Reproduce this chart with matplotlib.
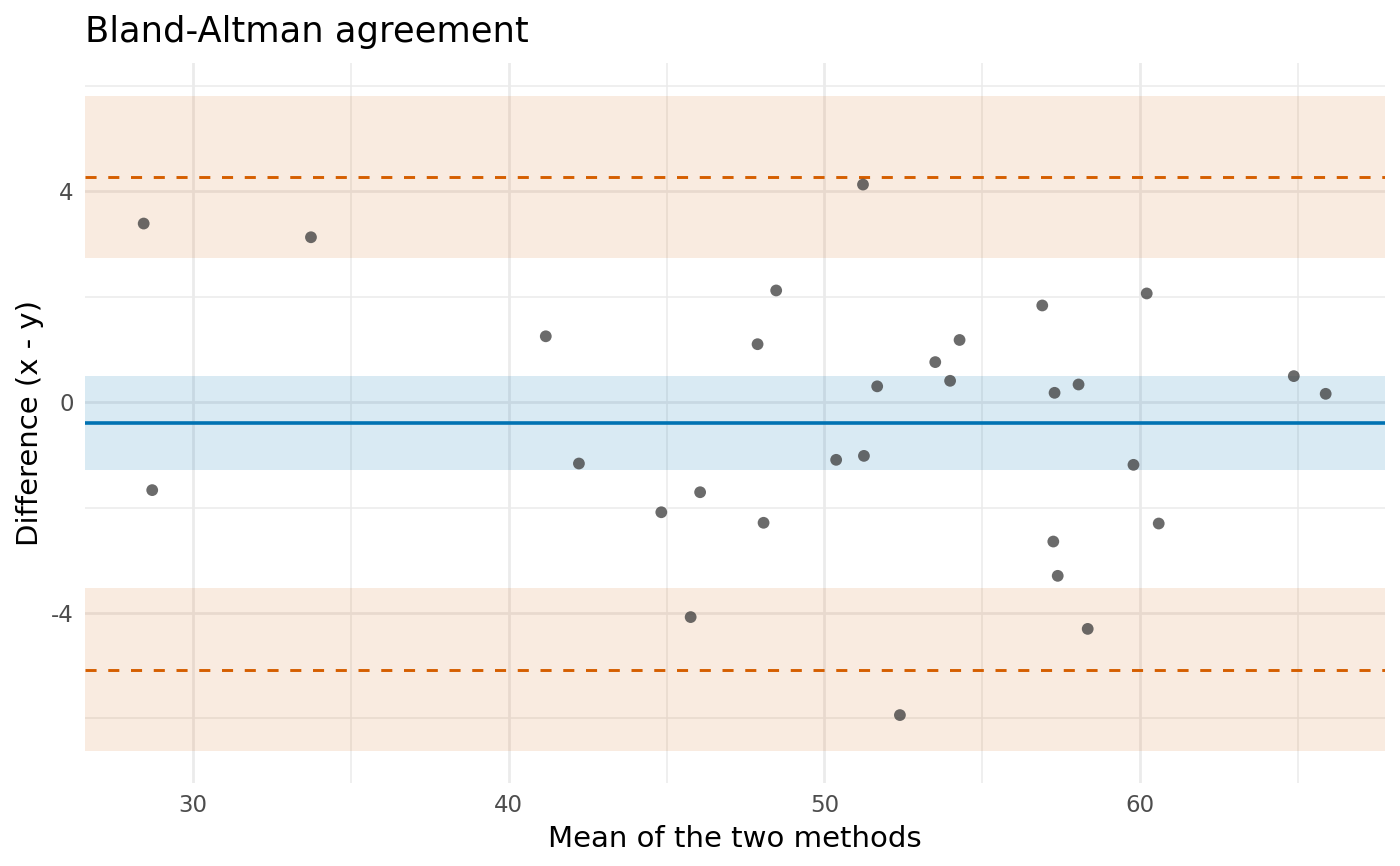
import matplotlib
matplotlib.use("Agg")
import matplotlib.pyplot as plt
from matplotlib.ticker import FixedLocator

# Data
mean_vals = [28.43, 33.73, 28.70, 41.17, 42.22, 44.83, 45.76, 46.06, 47.88, 48.07,
             48.47, 50.37, 51.22, 51.25, 51.67, 52.39, 53.51, 53.98, 54.28, 56.90,
             57.25, 57.29, 57.39, 58.05, 58.34, 59.79, 60.21, 60.59, 64.87, 65.88]
diff_vals = [3.39, 3.13, -1.67, 1.25, -1.165, -2.09, -4.08, -1.71, 1.10, -2.29,
             2.12, -1.095, 4.13, -1.02, 0.30, -5.94, 0.76, 0.405, 1.18, 1.835,
             -2.646, 0.177, -3.297, 0.335, -4.304, -1.19, 2.063, -2.304, 0.494, 0.158]

bias = -0.395
bias_ci = [-1.285, 0.494]
upper_loa = 4.278
upper_ci = [2.74, 5.816]
lower_loa = -5.076
lower_ci = [-6.627, -3.532]

x_ticks = [30, 40, 50, 60]
x_minor = [35, 45, 55, 65]
y_ticks = [-4, 0, 4]
y_minor = [-6, -2, 2, 6]
y_tick_labels = ["-4", "0", "4"]

ORANGE = "#D55E00"
BLUE = "#0072B2"

fig = plt.figure(figsize=(14, 8.66), dpi=100)
ax = fig.add_axes([0.0607, 0.0958, 0.9286, 0.831])

ax.set_xlim(26.57, 67.76)
ax.set_ylim(-7.23, 6.43)

# grid
ax.xaxis.set_major_locator(FixedLocator(x_ticks))
ax.yaxis.set_major_locator(FixedLocator(y_ticks))
ax.xaxis.set_minor_locator(FixedLocator(x_minor))
ax.yaxis.set_minor_locator(FixedLocator(y_minor))
ax.grid(which="major", color="#EBEBEB", linewidth=2.0, zorder=0)
ax.grid(which="minor", color="#EBEBEB", linewidth=1.1, zorder=0)
ax.set_axisbelow(True)

# bands
ax.axhspan(upper_ci[0], upper_ci[1], color=ORANGE, alpha=0.12, lw=0, zorder=1)
ax.axhspan(lower_ci[0], lower_ci[1], color=ORANGE, alpha=0.12, lw=0, zorder=1)
ax.axhspan(bias_ci[0], bias_ci[1], color=BLUE, alpha=0.15, lw=0, zorder=1)

# lines
ax.axhline(bias, color=BLUE, linewidth=2.6, zorder=2)
ax.axhline(upper_loa, color=ORANGE, linewidth=2.1, linestyle=(0, (3.8, 4.0)), zorder=2)
ax.axhline(lower_loa, color=ORANGE, linewidth=2.1, linestyle=(0, (3.8, 4.0)), zorder=2)

# points
ax.scatter(mean_vals, diff_vals, s=72, color="#3A3A3A", alpha=0.75, edgecolors="none", zorder=3)

for sp in ax.spines.values():
    sp.set_visible(False)
ax.tick_params(which="both", length=0)
ax.tick_params(axis="both", labelsize=16.5, labelcolor="#4D4D4D", pad=8)
ax.set_yticklabels(y_tick_labels)

ax.set_xlabel("Mean of the two methods", fontsize=21, color="black", labelpad=6)
ax.set_ylabel("Difference (x - y)", fontsize=21, color="black", labelpad=5)
fig.text(0.0607, 0.951, "Bland-Altman agreement", fontsize=25.4, color="black",
         ha="left", va="baseline")

fig.savefig("out.png", dpi=100, facecolor="white")
